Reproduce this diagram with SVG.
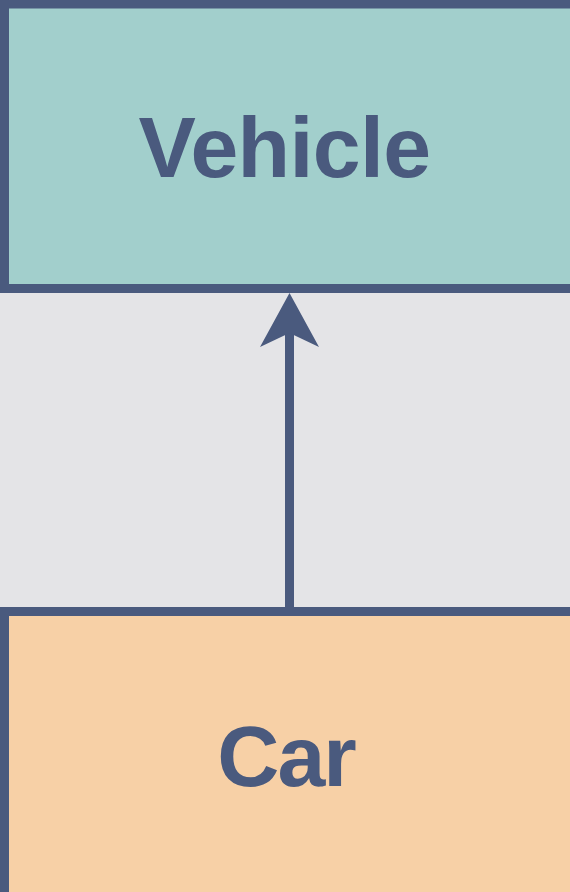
<svg xmlns="http://www.w3.org/2000/svg" width="570" height="892" viewBox="0 0 570 892">
<style>
.box{stroke:#4a5a7e;stroke-width:9}
.lbl{font-family:"Liberation Sans",Arial,sans-serif;font-weight:bold;font-size:86px;fill:#4a5a7e;text-anchor:middle}
</style>
<rect width="570" height="892" fill="#e4e4e7"/>
<g id="vehicle">
<rect class="box" x="4.5" y="4" width="575" height="284.5" fill="#a2cfcc"/>
<text class="lbl" x="284.5" y="177" letter-spacing="-0.6">Vehicle</text>
</g>
<g id="car">
<rect class="box" x="4.5" y="611.5" width="575" height="300" fill="#f7d0a6"/>
<text class="lbl" x="286" y="786" letter-spacing="-2">Car</text>
</g>
<g id="connectors">
<line x1="289.5" y1="607" x2="289.5" y2="330" stroke="#4a5a7e" stroke-width="9"/>
<polygon points="289.5,293 260,347 289.5,333 319,347" fill="#4a5a7e"/>
</g>
</svg>
